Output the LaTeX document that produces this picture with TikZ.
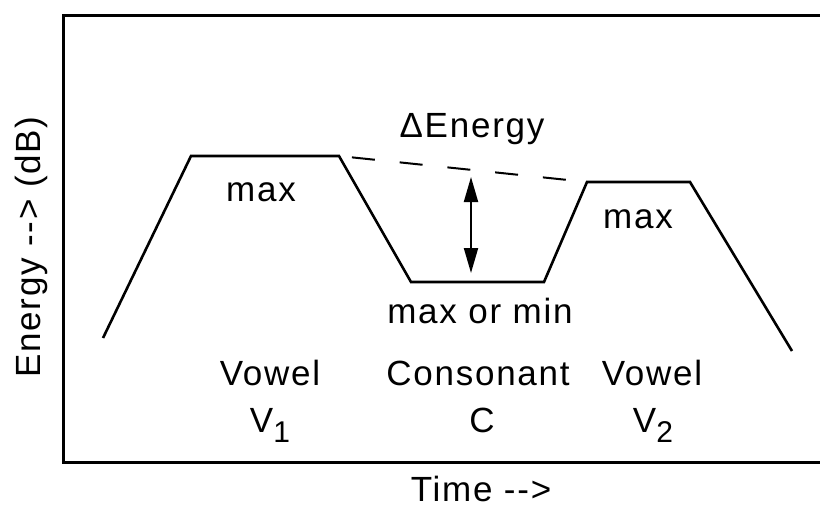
\documentclass[tikz,border=0pt]{standalone}
\usepackage{fontspec}
\setmainfont{Liberation Sans}[LetterSpace=5.0]
\usepackage{tikz}
\usetikzlibrary{arrows.meta}
\tikzstyle{every node}=[inner sep=0pt, font=\fontsize{35}{42}\selectfont]
\tikzstyle{lbl}=[anchor=base]
\tikzstyle{trace}=[line width=2.6pt, line join=miter]
\tikzstyle{axis}=[line width=3pt]
\newcommand{\vsub}[1]{\raisebox{-10pt}{\fontsize{30}{30}\selectfont #1}}

\begin{document}
\begin{tikzpicture}[x=1pt,y=-1pt]
      \useasboundingbox (0,0) rectangle (820,509);
      % frame
      \coordinate (tl) at (63,15);
      \coordinate (tr) at (820,15);
      \coordinate (bl) at (63,462);
      \coordinate (br) at (820,462);
      \draw[axis] (tr)--(tl)--(bl)--(br);
      % energy contour
      \coordinate (s)   at (103,338);
      \coordinate (v1a) at (191,156);
      \coordinate (v1b) at (339,156);
      \coordinate (ca)  at (411,282);
      \coordinate (cb)  at (544,282);
      \coordinate (v2a) at (587,182);
      \coordinate (v2b) at (690,182);
      \coordinate (e)   at (792,351);
      \draw[trace] (s)--(v1a)--(v1b)--(ca)--(cb)--(v2a)--(v2b)--(e);
      \draw[line width=2pt, dash pattern=on 23pt off 25pt, dash phase=35pt]
	(v1b)--(v2a);
      \coordinate (dtop) at (471,177);
      \coordinate (dbot) at (471,273);
      \draw[line width=2pt, {Triangle[length=25pt,width=14pt]}-{Triangle[length=25pt,width=14pt]}]
	(dtop)--(dbot);
      % labels
      \node[lbl] (delta) at (472,137) {ΔEnergy};
      \node[lbl] (max1) at (261,201) {max};
      \node[lbl] (max2) at (638,228) {max};
      \node[lbl] (maxmin) at (480,323) {max or min};
      \node[lbl] (vow1) at (270,385) {Vowel};
      \node[lbl] (cons) at (478,385) {Consonant};
      \node[lbl] (vow2) at (652,385) {Vowel};
      \node[lbl] (v1) at (270,432) {V\vsub{1}};
      \node[lbl] (c) at (482,432) {C};
      \node[lbl] (v2) at (653,432) {V\vsub{2}};
      \node[lbl] (time) at (481,501) {Time -{}-{}>};
      \node[lbl, rotate=90] (energy) at (40,247) {Energy -{}-{}> (dB)};
    \end{tikzpicture}
\end{document}
